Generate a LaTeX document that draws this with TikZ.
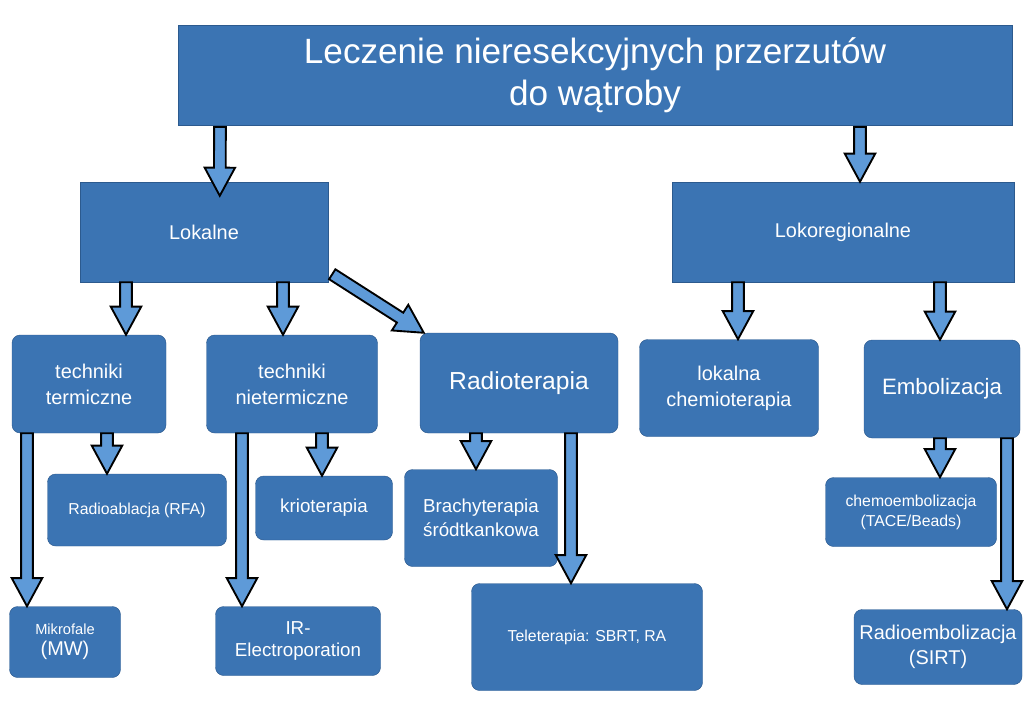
\documentclass[tikz,border=0pt]{standalone}
\usepackage{fontspec}
\setmainfont{Liberation Sans}
\usetikzlibrary{positioning, calc}
\definecolor{boxblue}{HTML}{3B74B3}
\definecolor{boxedge}{HTML}{2C5A8E}
\definecolor{arrowblue}{HTML}{5E9AD8}
\tikzset{
    flat/.style={draw=boxedge, fill=boxblue, text=white, align=center, inner sep=0pt},
    soft/.style={flat, rounded corners=7pt},
}
% block arrow from #1 to #2
\newcommand{\blockarrow}[2]{
    \coordinate (ba1) at #1;
    \coordinate (ba2) at #2;
    \coordinate (bah) at ($(ba2)!24pt!(ba1)$);
    \draw[black, line width=1.6pt, fill=arrowblue, line join=miter]
        ($(ba1)!5pt!90:(ba2)$) -- ($(bah)!5pt!-90:(ba1)$) -- ($(bah)!13pt!-90:(ba1)$)
        -- (ba2) -- ($(bah)!13pt!90:(ba1)$) -- ($(bah)!5pt!90:(ba1)$)
        -- ($(ba1)!5pt!-90:(ba2)$) -- cycle;
}
\begin{document}
\begin{tikzpicture}[x=0.03cm, y=-0.03cm]
    \useasboundingbox (0,0) rectangle (1024,719);

    % boxes
    \node[flat, minimum width=834*0.03cm, minimum height=100*0.03cm, font=\fontsize{30}{36}\selectfont] (title) at (595,75) {Leczenie nieresekcyjnych przerzutów\\do wątroby};
    \node[flat, minimum width=248*0.03cm, minimum height=100*0.03cm, font=\fontsize{17}{20}\selectfont] (lok) at (204,232) {Lokalne};
    \node[flat, minimum width=342*0.03cm, minimum height=100*0.03cm, font=\fontsize{17}{20}\selectfont] (lokreg) at (843,232) {Lokoregionalne};

    \node[soft, minimum width=154*0.03cm, minimum height=98*0.03cm, font=\fontsize{17}{22}\selectfont] (term) at (89,384) {techniki\\termiczne};
    \node[soft, minimum width=171*0.03cm, minimum height=98*0.03cm, font=\fontsize{17}{22}\selectfont] (nieterm) at (292,384) {techniki\\nietermiczne};
    \node[soft, minimum width=198*0.03cm, minimum height=100*0.03cm, font=\fontsize{21}{25}\selectfont] (radio) at (519,383) {Radioterapia};
    \node[soft, minimum width=179*0.03cm, minimum height=97*0.03cm, font=\fontsize{17}{22}\selectfont] (chemio) at (729,388) {lokalna\\chemioterapia};
    \node[soft, minimum width=156*0.03cm, minimum height=98*0.03cm, font=\fontsize{19}{23}\selectfont] (embo) at (942,389) {Embolizacja};

    \node[soft, minimum width=179*0.03cm, minimum height=72*0.03cm, font=\fontsize{13.5}{16}\selectfont] (rfa) at (137,510) {Radioablacja (RFA)};
    \node[soft, minimum width=137*0.03cm, minimum height=64*0.03cm, font=\fontsize{16}{19}\selectfont] (krio) at (324,508) {krioterapia};
    \node[soft, minimum width=153*0.03cm, minimum height=97*0.03cm, font=\fontsize{16}{20}\selectfont] (brachy) at (481,518) {Brachyterapia\\śródtkankowa};
    \node[soft, minimum width=171*0.03cm, minimum height=69*0.03cm, font=\fontsize{13.5}{17}\selectfont] (tace) at (911,512) {chemoembolizacja\\(TACE/Beads)};

    \node[soft, minimum width=111*0.03cm, minimum height=71*0.03cm, font=\fontsize{12.5}{18}\selectfont] (mw) at (65,642) {Mikrofale\\{\fontsize{17}{20}\selectfont (MW)}};
    \node[soft, minimum width=165*0.03cm, minimum height=69*0.03cm, font=\fontsize{16}{19}\selectfont] (ir) at (298,641) {IR-\\Electroporation};
    \node[soft, minimum width=231*0.03cm, minimum height=107*0.03cm, font=\fontsize{13.5}{16}\selectfont] (tele) at (587,637) {Teleterapia: SBRT, RA};
    \node[soft, minimum width=168*0.03cm, minimum height=75*0.03cm, font=\fontsize{17}{21}\selectfont] (sirt) at (938,647) {Radioembolizacja\\(SIRT)};

    % arrows
    \blockarrow{(220,127)}{($(lok.north west)+(140,14)$)}
    \blockarrow{(860,127)}{(lokreg.north -| 860,0)}
    \blockarrow{(lok.south -| 126,0)}{(term.north -| 126,0)}
    \blockarrow{(lok.south -| 283,0)}{(nieterm.north -| 283,0)}
    \blockarrow{($(lok.south east)+(4,-8)$)}{($(radio.north west)+(4,0)$)}
    \blockarrow{(lokreg.south -| 738,0)}{(chemio.north -| 738,0)}
    \blockarrow{(lokreg.south -| 940,0)}{(embo.north -| 940,0)}
    \blockarrow{(term.south -| 107,0)}{(rfa.north -| 107,0)}
    \blockarrow{(term.south -| 27,0)}{(mw.north -| 27,0)}
    \blockarrow{(nieterm.south -| 322,0)}{(krio.north -| 322,0)}
    \blockarrow{(nieterm.south -| 242,0)}{(ir.north -| 242,0)}
    \blockarrow{(radio.south -| 476,0)}{(brachy.north -| 476,0)}
    \blockarrow{(radio.south -| 571,0)}{(tele.north -| 571,0)}
    \blockarrow{(embo.south -| 940,0)}{(tace.north -| 940,0)}
    \blockarrow{(embo.south -| 1007,0)}{(sirt.north -| 1007,0)}
\end{tikzpicture}
\end{document}
